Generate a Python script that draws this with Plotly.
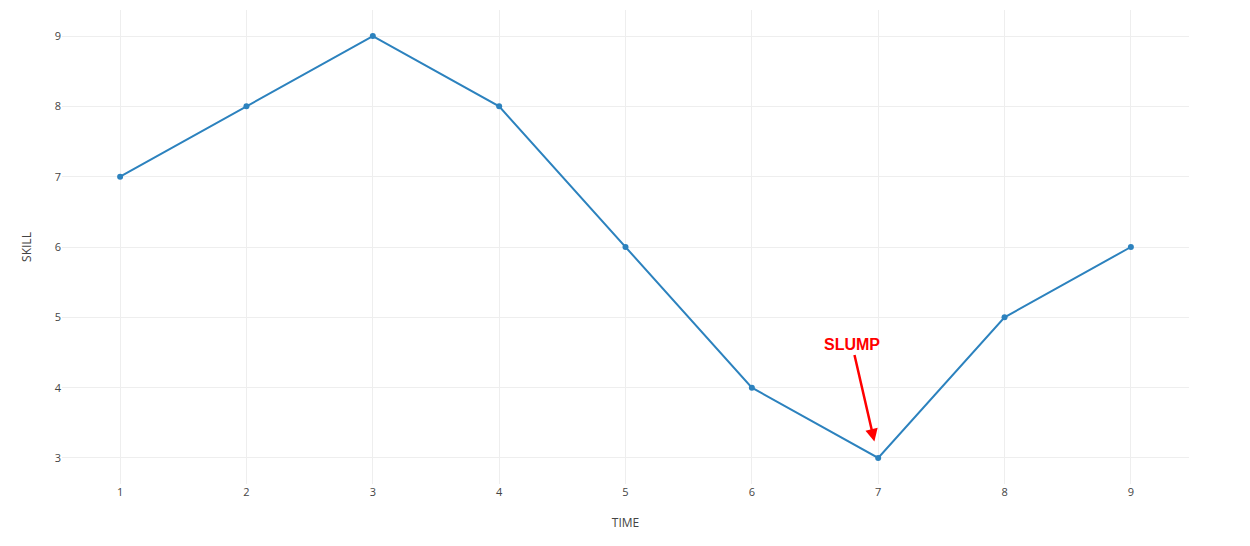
import plotly.graph_objects as go

time = [1, 2, 3, 4, 5, 6, 7, 8, 9]
skill = [7, 8, 9, 8, 6, 4, 3, 5, 6]

fig = go.Figure()
fig.add_trace(go.Scatter(
    x=time, y=skill, mode="lines+markers",
    line=dict(color="#2c82be", width=2),
    marker=dict(color="#2c82be", size=6),
    showlegend=False,
))

fig.add_annotation(
    x=7, y=3, xref="x", yref="y",
    text="<b>SLUMP</b>",
    showarrow=True, arrowhead=2, arrowsize=1, arrowwidth=2.5,
    arrowcolor="#ff0000", standoff=17,
    ax=-26, ay=-113,
    font=dict(family="Arial, Liberation Sans", size=16, color="#ff0000"),
)

fig.update_layout(
    width=1250, height=546,
    margin=dict(l=54, r=69, t=2, b=70),
    paper_bgcolor="white", plot_bgcolor="white",
    font=dict(family="Open Sans", color="#444"),
    xaxis=dict(
        title=dict(text="TIME", font=dict(size=12), standoff=20),
        range=[0.54, 9.46], tickvals=time, tickfont=dict(size=11),
        showgrid=True, gridcolor="#eeeeee", zeroline=False, showline=False,
    ),
    yaxis=dict(
        title=dict(text="SKILL", font=dict(size=12), standoff=20),
        range=[2.63, 9.37], dtick=1, tickfont=dict(size=11),
        showgrid=True, gridcolor="#eeeeee", zeroline=False, showline=False,
    ),
)

fig.write_html("out.html")
